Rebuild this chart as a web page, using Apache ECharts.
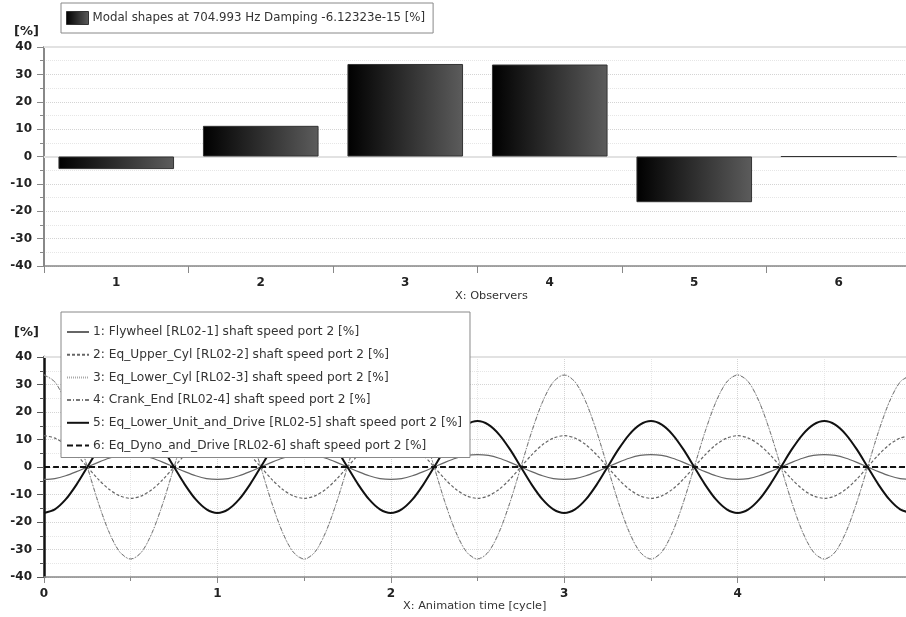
<!DOCTYPE html>
<html>
<head>
<meta charset="utf-8">
<script src="https://cdn.jsdelivr.net/npm/echarts@6/dist/echarts.min.js"></script>
<style>
  html, body { margin: 0; padding: 0; background: #fff; }
  #chart { width: 906px; height: 617px; }
</style>
</head>
<body>
<div id="chart"></div>
<script>
// top: modal shape per observer
const observers = ['1', '2', '3', '4', '5', '6']
const modalShape = [-4.6, 11.2, 33.8, 33.6, -16.7, 0]
const modalName = 'Modal shapes at 704.993 Hz Damping -6.12323e-15 [%]'

// bottom: animation over 5 cycles, read every 1/16 cycle
const animTime = [
  0, 0.0625, 0.125, 0.1875, 0.25, 0.3125, 0.375, 0.4375, 0.5, 0.5625, 0.625, 0.6875, 0.75, 0.8125, 0.875, 0.9375,
  1, 1.0625, 1.125, 1.1875, 1.25, 1.3125, 1.375, 1.4375, 1.5, 1.5625, 1.625, 1.6875, 1.75, 1.8125, 1.875, 1.9375,
  2, 2.0625, 2.125, 2.1875, 2.25, 2.3125, 2.375, 2.4375, 2.5, 2.5625, 2.625, 2.6875, 2.75, 2.8125, 2.875, 2.9375,
  3, 3.0625, 3.125, 3.1875, 3.25, 3.3125, 3.375, 3.4375, 3.5, 3.5625, 3.625, 3.6875, 3.75, 3.8125, 3.875, 3.9375,
  4, 4.0625, 4.125, 4.1875, 4.25, 4.3125, 4.375, 4.4375, 4.5, 4.5625, 4.625, 4.6875, 4.75, 4.8125, 4.875, 4.9375,
  5
]
const flywheel = [
  -4.5, -4.2, -3.2, -1.7, 0, 1.7, 3.2, 4.2, 4.5, 4.2, 3.2, 1.7, 0, -1.7, -3.2, -4.2,
  -4.5, -4.2, -3.2, -1.7, 0, 1.7, 3.2, 4.2, 4.5, 4.2, 3.2, 1.7, 0, -1.7, -3.2, -4.2,
  -4.5, -4.2, -3.2, -1.7, 0, 1.7, 3.2, 4.2, 4.5, 4.2, 3.2, 1.7, 0, -1.7, -3.2, -4.2,
  -4.5, -4.2, -3.2, -1.7, 0, 1.7, 3.2, 4.2, 4.5, 4.2, 3.2, 1.7, 0, -1.7, -3.2, -4.2,
  -4.5, -4.2, -3.2, -1.7, 0, 1.7, 3.2, 4.2, 4.5, 4.2, 3.2, 1.7, 0, -1.7, -3.2, -4.2,
  -4.5
]
const eqUpperCyl = [
  11.4, 10.5, 8.1, 4.4, 0, -4.4, -8.1, -10.5, -11.4, -10.5, -8.1, -4.4, 0, 4.4, 8.1, 10.5,
  11.4, 10.5, 8.1, 4.4, 0, -4.4, -8.1, -10.5, -11.4, -10.5, -8.1, -4.4, 0, 4.4, 8.1, 10.5,
  11.4, 10.5, 8.1, 4.4, 0, -4.4, -8.1, -10.5, -11.4, -10.5, -8.1, -4.4, 0, 4.4, 8.1, 10.5,
  11.4, 10.5, 8.1, 4.4, 0, -4.4, -8.1, -10.5, -11.4, -10.5, -8.1, -4.4, 0, 4.4, 8.1, 10.5,
  11.4, 10.5, 8.1, 4.4, 0, -4.4, -8.1, -10.5, -11.4, -10.5, -8.1, -4.4, 0, 4.4, 8.1, 10.5,
  11.4
]
const eqLowerCyl = [
  33.6, 31.0, 23.8, 12.9, 0, -12.9, -23.8, -31.0, -33.6, -31.0, -23.8, -12.9, 0, 12.9, 23.8, 31.0,
  33.6, 31.0, 23.8, 12.9, 0, -12.9, -23.8, -31.0, -33.6, -31.0, -23.8, -12.9, 0, 12.9, 23.8, 31.0,
  33.6, 31.0, 23.8, 12.9, 0, -12.9, -23.8, -31.0, -33.6, -31.0, -23.8, -12.9, 0, 12.9, 23.8, 31.0,
  33.6, 31.0, 23.8, 12.9, 0, -12.9, -23.8, -31.0, -33.6, -31.0, -23.8, -12.9, 0, 12.9, 23.8, 31.0,
  33.6, 31.0, 23.8, 12.9, 0, -12.9, -23.8, -31.0, -33.6, -31.0, -23.8, -12.9, 0, 12.9, 23.8, 31.0,
  33.6
]
const crankEnd = [
  33.4, 30.9, 23.6, 12.8, 0, -12.8, -23.6, -30.9, -33.4, -30.9, -23.6, -12.8, 0, 12.8, 23.6, 30.9,
  33.4, 30.9, 23.6, 12.8, 0, -12.8, -23.6, -30.9, -33.4, -30.9, -23.6, -12.8, 0, 12.8, 23.6, 30.9,
  33.4, 30.9, 23.6, 12.8, 0, -12.8, -23.6, -30.9, -33.4, -30.9, -23.6, -12.8, 0, 12.8, 23.6, 30.9,
  33.4, 30.9, 23.6, 12.8, 0, -12.8, -23.6, -30.9, -33.4, -30.9, -23.6, -12.8, 0, 12.8, 23.6, 30.9,
  33.4, 30.9, 23.6, 12.8, 0, -12.8, -23.6, -30.9, -33.4, -30.9, -23.6, -12.8, 0, 12.8, 23.6, 30.9,
  33.4
]
const eqLowerUnit = [
  -16.7, -15.4, -11.8, -6.4, 0, 6.4, 11.8, 15.4, 16.7, 15.4, 11.8, 6.4, 0, -6.4, -11.8, -15.4,
  -16.7, -15.4, -11.8, -6.4, 0, 6.4, 11.8, 15.4, 16.7, 15.4, 11.8, 6.4, 0, -6.4, -11.8, -15.4,
  -16.7, -15.4, -11.8, -6.4, 0, 6.4, 11.8, 15.4, 16.7, 15.4, 11.8, 6.4, 0, -6.4, -11.8, -15.4,
  -16.7, -15.4, -11.8, -6.4, 0, 6.4, 11.8, 15.4, 16.7, 15.4, 11.8, 6.4, 0, -6.4, -11.8, -15.4,
  -16.7, -15.4, -11.8, -6.4, 0, 6.4, 11.8, 15.4, 16.7, 15.4, 11.8, 6.4, 0, -6.4, -11.8, -15.4,
  -16.7
]
const eqDyno = [
  0, 0, 0, 0, 0, 0, 0, 0, 0, 0, 0, 0, 0, 0, 0, 0,
  0, 0, 0, 0, 0, 0, 0, 0, 0, 0, 0, 0, 0, 0, 0, 0,
  0, 0, 0, 0, 0, 0, 0, 0, 0, 0, 0, 0, 0, 0, 0, 0,
  0, 0, 0, 0, 0, 0, 0, 0, 0, 0, 0, 0, 0, 0, 0, 0,
  0, 0, 0, 0, 0, 0, 0, 0, 0, 0, 0, 0, 0, 0, 0, 0,
  0
]
const lineNames = [
  '1: Flywheel [RL02-1] shaft speed port 2 [%]',
  '2: Eq_Upper_Cyl [RL02-2] shaft speed port 2 [%]',
  '3: Eq_Lower_Cyl [RL02-3] shaft speed port 2 [%]',
  '4: Crank_End [RL02-4] shaft speed port 2 [%]',
  '5: Eq_Lower_Unit_and_Drive [RL02-5] shaft speed port 2 [%]',
  '6: Eq_Dyno_and_Drive [RL02-6] shaft speed port 2 [%]'
]
const lineValues = [flywheel, eqUpperCyl, eqLowerCyl, crankEnd, eqLowerUnit, eqDyno]
const lineStyles = [
  { color: '#666', width: 1.2, type: 'solid' },
  { color: '#666', width: 1.2, type: [3, 2] },
  { color: '#aaa', width: 1, type: [1, 1] },
  { color: '#777', width: 1, type: [4, 2, 1, 2] },
  { color: '#111', width: 2, type: 'solid' },
  { color: '#111', width: 2.2, type: [6, 3] }
]

const chart = echarts.init(document.getElementById('chart'))

const font = 'DejaVu Sans'
const tickLabel = { color: '#222', fontFamily: font, fontWeight: 'bold', fontSize: 12 }
const gridDot = { color: '#d4d4d4', type: [1, 1], width: 1 }
const gridDotLight = { color: '#e6e6e6', type: [1, 1], width: 1 }

const barGradient = new echarts.graphic.LinearGradient(0, 0, 1, 0, [
  { offset: 0, color: '#000' },
  { offset: 1, color: '#5c5c5c' }
])

const lineSeries = lineNames.map((name, i) => ({
  name: name,
  type: 'line',
  xAxisIndex: 1,
  yAxisIndex: 1,
  symbol: 'none',
  smooth: 0.3,
  data: animTime.map((t, k) => [t, lineValues[i][k]]),
  lineStyle: lineStyles[i],
  itemStyle: { color: lineStyles[i].color },
  z: 3
}))

// light solid lines at 0 / 40, kept under bars and legends
const plainLine = (values) => ({
  silent: true,
  symbol: 'none',
  label: { show: false },
  lineStyle: { color: '#e2e2e2', type: 'solid', width: 2 },
  data: values.map(v => ({ yAxis: v })),
  z: 1
})

const option = {
  animation: false,
  backgroundColor: '#fff',
  legend: [
    {
      data: [{ name: modalName, icon: 'rect', itemStyle: { color: barGradient, borderColor: '#333', borderWidth: 1 } }],
      left: 61,
      top: 3,
      padding: [8, 8, 8, 5],
      itemWidth: 22,
      itemHeight: 13,
      itemGap: 0,
      borderColor: '#888',
      borderWidth: 1,
      backgroundColor: '#fff',
      textStyle: { fontFamily: font, fontSize: 11.8, color: '#333', padding: [0, 0, 0, -1] }
    },
    {
      data: lineNames,
      orient: 'vertical',
      left: 61,
      top: 312,
      padding: [14, 8, 6, 5],
      itemWidth: 22,
      itemHeight: 14,
      itemGap: 10.7,
      borderColor: '#888',
      borderWidth: 1,
      backgroundColor: '#fff',
      itemStyle: { color: 'rgba(0,0,0,0)', borderWidth: 0, opacity: 0 },
      textStyle: { fontFamily: font, fontSize: 12.2, color: '#333', padding: [0, 0, 0, -1] }
    }
  ],
  grid: [
    { left: 44, right: -5, top: 47, height: 219, outerBoundsMode: 'none' },
    { left: 44, right: -5, top: 357, height: 220, outerBoundsMode: 'none' }
  ],
  xAxis: [
    {
      type: 'category',
      gridIndex: 0,
      data: observers,
      axisLine: { onZero: false, lineStyle: { color: '#888', width: 1.5 } },
      axisTick: { show: true, length: 7, lineStyle: { color: '#888' } },
      axisLabel: Object.assign({ margin: 11 }, tickLabel),
      splitLine: { show: false }
    },
    {
      type: 'value',
      gridIndex: 1,
      min: 0,
      max: 5,
      interval: 1,
      axisLine: { onZero: false, lineStyle: { color: '#888', width: 1.5 } },
      axisTick: { show: true, length: 6, lineStyle: { color: '#888' } },
      minorTick: { show: true, splitNumber: 2, length: 4, lineStyle: { color: '#888' } },
      axisLabel: Object.assign({ margin: 11, showMaxLabel: true }, tickLabel),
      splitLine: { show: true, lineStyle: gridDot },
      minorSplitLine: { show: true, lineStyle: gridDotLight }
    }
  ],
  yAxis: [
    {
      type: 'value',
      gridIndex: 0,
      min: -40,
      max: 40,
      interval: 10,
      axisLine: { show: true, lineStyle: { color: '#888', width: 2 } },
      axisTick: { show: true, length: 7, lineStyle: { color: '#888' } },
      minorTick: { show: true, splitNumber: 2, length: 4, lineStyle: { color: '#888' } },
      axisLabel: Object.assign({ margin: 12 }, tickLabel),
      splitLine: { show: true, lineStyle: gridDot },
      minorSplitLine: { show: true, lineStyle: gridDotLight }
    },
    {
      type: 'value',
      gridIndex: 1,
      min: -40,
      max: 40,
      interval: 10,
      axisLine: { show: true, lineStyle: { color: '#111', width: 2.5 } },
      axisTick: { show: true, length: 7, lineStyle: { color: '#555' } },
      minorTick: { show: true, splitNumber: 2, length: 4, lineStyle: { color: '#555' } },
      axisLabel: Object.assign({ margin: 12 }, tickLabel),
      splitLine: { show: true, lineStyle: gridDot },
      minorSplitLine: { show: true, lineStyle: gridDotLight }
    }
  ],
  graphic: [
    { type: 'text', left: 14, top: 25, style: { text: '[%]', font: 'bold 13px "DejaVu Sans"', fill: '#222' } },
    { type: 'text', left: 14, top: 326, style: { text: '[%]', font: 'bold 13px "DejaVu Sans"', fill: '#222' } },
    { type: 'text', left: 455, top: 291, style: { text: 'X: Observers', font: '11.3px "DejaVu Sans"', fill: '#333' } },
    { type: 'text', left: 403, top: 601, style: { text: 'X: Animation time [cycle]', font: '11.3px "DejaVu Sans"', fill: '#333' } }
  ],
  series: [
    {
      name: modalName,
      type: 'bar',
      xAxisIndex: 0,
      yAxisIndex: 0,
      data: modalShape,
      barWidth: '80%',
      itemStyle: { color: barGradient, borderColor: '#333', borderWidth: 1 },
      markLine: plainLine([0, 40]),
      z: 2
    },
    ...lineSeries,
    {
      type: 'line',
      xAxisIndex: 1,
      yAxisIndex: 1,
      data: [],
      z: 1,
      markLine: plainLine([40])
    }
  ]
}

chart.setOption(option)
</script>
</body>
</html>
